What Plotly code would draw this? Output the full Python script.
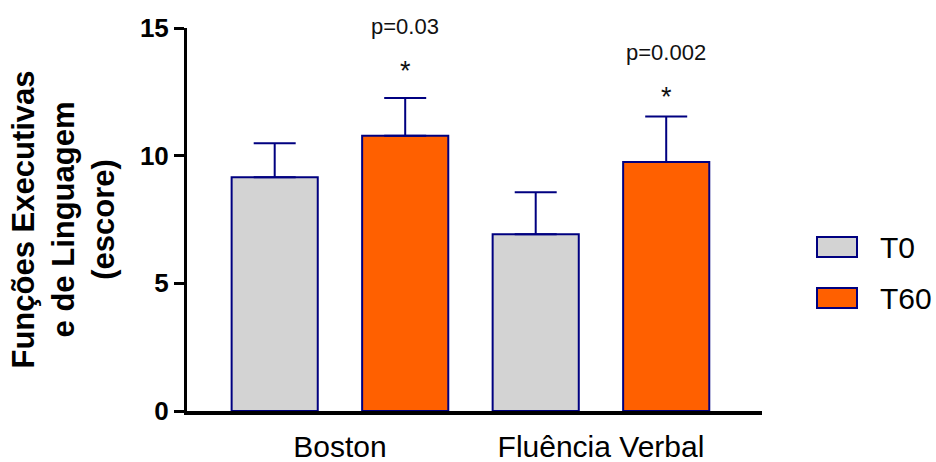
import plotly.graph_objects as go

categories = ["Boston", "Fluência Verbal"]
series_names = ["T0", "T60"]
t0_mean = [9.15, 6.92]
t0_err = [1.34, 1.65]
t60_mean = [10.78, 9.75]
t60_err = [1.48, 1.78]
fill_colors = ["#d3d3d3", "#ff6000"]
edge_color = "#000080"
p_labels = ["p=0.03", "p=0.002"]
p_label_y = [15.05, 14.05]
star_y = [13.3, 12.3]
y_max = 15

W, H = 936, 462
L, R, T, B = 187, 174, 28, 51
pw, ph = W - L - R, H - T - B

fig = go.Figure()
x_pos = list(range(len(categories)))
for name, means, errs, col in [(series_names[0], t0_mean, t0_err, fill_colors[0]),
                               (series_names[1], t60_mean, t60_err, fill_colors[1])]:
    fig.add_trace(go.Bar(
        x=x_pos, y=means, name=name,
        marker=dict(color=col, line=dict(color=edge_color, width=2)),
        error_y=dict(type="data", symmetric=False, array=errs,
                     arrayminus=[0] * len(errs), color=edge_color,
                     thickness=2, width=21),
        showlegend=False,
    ))

annotations = []
for i in range(len(categories)):
    annotations.append(dict(x=i + 0.25, y=p_label_y[i] / y_max, xref="x", yref="paper",
                            text=p_labels[i], showarrow=False,
                            font=dict(size=22, color="#111"), yanchor="middle"))
    annotations.append(dict(x=i + 0.25, y=star_y[i] / y_max, xref="x", yref="paper",
                            text="*", showarrow=False,
                            font=dict(size=27, color="#111"), yanchor="middle"))

# y-axis title
annotations.append(dict(x=(63 - L) / pw, y=0.5, xref="paper", yref="paper",
                        text="<b>Funções Executivas<br>e de Linguagem<br>(escore)</b>",
                        textangle=-90, showarrow=False, xanchor="center", yanchor="middle",
                        font=dict(size=31, color="#000")))

# legend (drawn)
shapes = []
leg_rows = [247, 298]
for name, col, yc in zip(series_names, fill_colors, leg_rows):
    shapes.append(dict(type="rect", xref="paper", yref="paper",
                       x0=(817 - L) / pw, x1=(857 - L) / pw,
                       y0=(H - B - (yc - 10)) / ph, y1=(H - B - (yc + 10)) / ph,
                       fillcolor=col, line=dict(color=edge_color, width=2)))
    annotations.append(dict(x=(878 - L) / pw, y=(H - B - yc) / ph, xref="paper", yref="paper",
                            text=name, showarrow=False, xanchor="left", yanchor="middle",
                            font=dict(size=30, color="#000")))

fig.update_layout(
    width=W, height=H, margin=dict(l=L, r=R, t=T, b=B),
    paper_bgcolor="white", plot_bgcolor="white",
    barmode="group", bargap=0.0, bargroupgap=0.34,
    font=dict(family="Liberation Sans, Arial, sans-serif", color="#000"),
    annotations=annotations, shapes=shapes,
    xaxis=dict(tickvals=x_pos, ticktext=categories, range=[-0.586, 1.617],
               showline=True, linecolor="#000", linewidth=4, ticks="",
               showgrid=False, zeroline=False, tickfont=dict(size=30),
               ticklabelstandoff=6, automargin=False),
    yaxis=dict(range=[0, y_max], tickvals=[0, 5, 10, 15], showline=True,
               linecolor="#000", linewidth=3, ticks="outside", ticklen=10,
               tickwidth=3, tickcolor="#000", showgrid=False, zeroline=False,
               tickfont=dict(size=26, weight="bold",
                             family="Liberation Sans, Arial, sans-serif"),
               automargin=False),
)
fig.write_html("out.html")
